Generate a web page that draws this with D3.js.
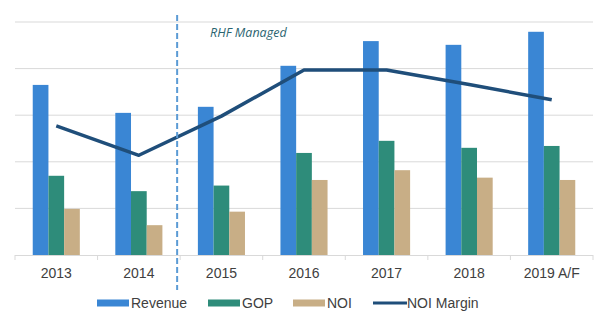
<!DOCTYPE html>
<html><head><meta charset="utf-8">
<script src="https://cdn.jsdelivr.net/npm/d3@7/dist/d3.min.js"></script>
<style>body{margin:0;background:#fff}svg{display:block}</style>
</head><body><svg id="c" width="609" height="327"></svg>
<script>
const categories = ["2013","2014","2015","2016","2017","2018","2019 A/F"];
const revenue = [3.65,3.05,3.18,4.06,4.59,4.51,4.79];
const gop     = [1.70,1.37,1.49,2.19,2.45,2.30,2.34];
const noi     = [0.99,0.64,0.93,1.61,1.82,1.66,1.61];
const noiMargin = [27.7,21.4,29.8,39.7,39.7,36.6,33.3];
const seriesNames = ["Revenue","GOP","NOI"];
const colors = {Revenue:"#3a86d4", GOP:"#2e8c7a", NOI:"#c8ae86", "NOI Margin":"#1f4e7a"};

const svg = d3.select("#c");
const L=15, R=593, T=22, B=255;
const x = d3.scaleBand().domain(categories).range([L,R]);
const y = d3.scaleLinear().domain([0,5]).range([B,T]);
const y2 = d3.scaleLinear().domain([0,50]).range([B,T]);
const xs = d3.scaleBand().domain(seriesNames).range([0,x.bandwidth()]).paddingOuter(1.13).paddingInner(0);

// gridlines
svg.append("g").selectAll("line").data(y.ticks(5).filter(d=>d>0)).join("line")
  .attr("x1",L).attr("x2",R).attr("y1",d=>y(d)).attr("y2",d=>y(d))
  .attr("stroke","#d9d9d9").attr("stroke-width",1);

// bars
const data = categories.map((c,i)=>({c, Revenue:revenue[i], GOP:gop[i], NOI:noi[i]}));
const g = svg.append("g").selectAll("g").data(data).join("g").attr("transform",d=>`translate(${x(d.c)},0)`);
g.selectAll("rect").data(d=>seriesNames.map(k=>({k,v:d[k]}))).join("rect")
  .attr("x",d=>xs(d.k)).attr("width",xs.bandwidth())
  .attr("y",d=>y(d.v)).attr("height",d=>B-y(d.v)).attr("fill",d=>colors[d.k]);

// x axis
const ax = svg.append("g").attr("transform",`translate(0,${B})`)
  .call(d3.axisBottom(x).tickSize(0).tickPadding(0));
ax.select(".domain").remove();
ax.selectAll("text").attr("dy",null).attr("y",23).attr("font-family","Liberation Sans, Arial, sans-serif")
  .attr("font-size",14).attr("fill","#404040");
svg.append("line").attr("x1",L).attr("x2",R).attr("y1",B+0.5).attr("y2",B+0.5).attr("stroke","#d9d9d9");
svg.append("g").selectAll("line").data(categories.concat([null])).join("line")
  .attr("x1",(d,i)=>L+i*x.step()).attr("x2",(d,i)=>L+i*x.step())
  .attr("y1",B).attr("y2",B+5).attr("stroke","#d9d9d9");

// line
const line = d3.line().x((d,i)=>x(categories[i])+x.bandwidth()/2).y(d=>y2(d));
svg.append("path").datum(noiMargin).attr("d",line).attr("fill","none")
  .attr("stroke",colors["NOI Margin"]).attr("stroke-width",3.5).attr("stroke-linejoin","round");

// divider
const dx = (x("2014")+x("2015")+x.bandwidth())/2 - 3;
svg.append("line").attr("x1",dx).attr("x2",dx).attr("y1",15).attr("y2",290)
  .attr("stroke","#5b9bd5").attr("stroke-width",2).attr("stroke-dasharray","6,3");
svg.append("text").attr("x",210).attr("y",37).text("RHF Managed")
  .attr("font-family","Open Sans, sans-serif").attr("font-style","italic").attr("font-size",12.5)
  .attr("fill","#2a6470");

// legend
const leg = [{k:"Revenue",x:97,t:"rect"},{k:"GOP",x:208,t:"rect"},{k:"NOI",x:293,t:"rect"},{k:"NOI Margin",x:373,t:"line"}];
const lg = svg.append("g").selectAll("g").data(leg).join("g").attr("transform",d=>`translate(${d.x},303)`);
lg.filter(d=>d.t==="rect").append("rect").attr("x",0).attr("y",-3.5).attr("width",32).attr("height",7).attr("fill",d=>colors[d.k]);
lg.filter(d=>d.t==="line").append("line").attr("x1",0).attr("x2",34).attr("y1",0).attr("y2",0).attr("stroke",d=>colors[d.k]).attr("stroke-width",3);
lg.append("text").attr("x",d=>d.t==="rect"?34:34).attr("y",5).text(d=>d.k)
  .attr("font-family","Liberation Sans, Arial, sans-serif").attr("font-size",14).attr("fill","#404040");
</script></body></html>
